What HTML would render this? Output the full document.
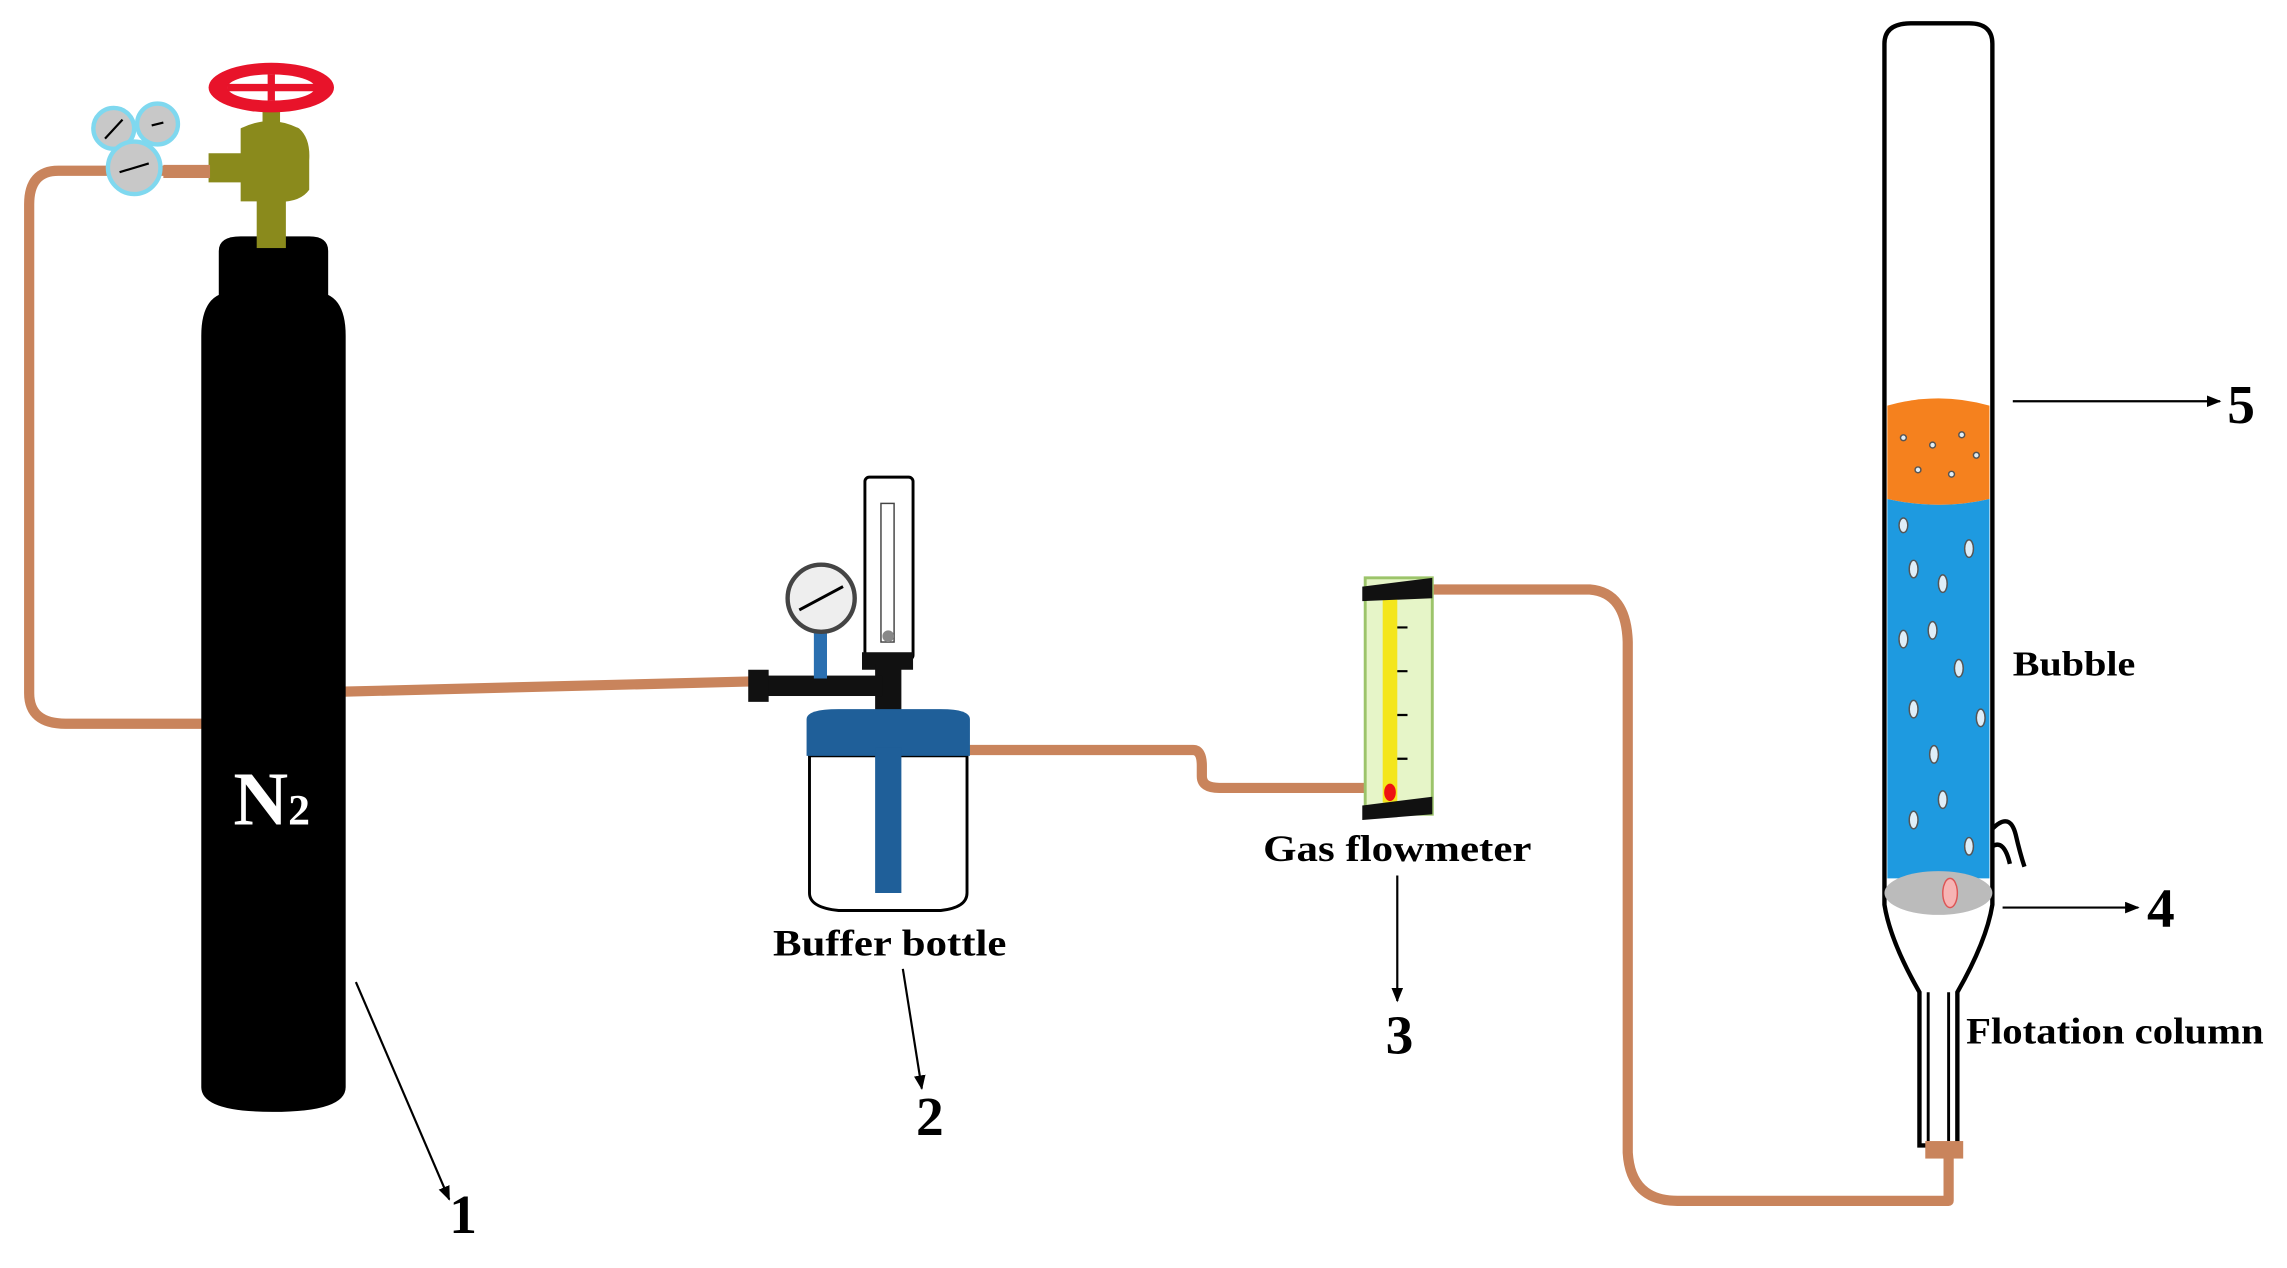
<!DOCTYPE html>
<html><head><meta charset="utf-8"><style>
html,body{margin:0;padding:0;background:#fff;width:2287px;height:1268px;overflow:hidden}
svg{display:block}
text{font-family:"Liberation Serif",serif;font-weight:bold;fill:#000}
</style></head><body>
<svg width="2287" height="1268" viewBox="0 0 1568 869" preserveAspectRatio="none">
<defs>
<marker id="ah" markerWidth="10" markerHeight="8" refX="9" refY="4" orient="auto" markerUnits="userSpaceOnUse">
<path d="M0,0 L10,4 L0,8 z" fill="#000"/></marker>
</defs>
<g fill="none" stroke="#c9845c" stroke-width="7" stroke-linejoin="round">
<path d="M118,117 L40,117 Q20,117 20,140 L20,475 Q20,496 45,496 L140,496"/>
<path d="M236,474 L515,467"/>
<path d="M664,514 L818,514 Q824,514 824,525 L824,532 Q824,540 836,540 L936,540"/>
<path d="M980,404 L1090,404 Q1115,406 1116,440 L1116,790 Q1118,823 1150,823 L1336,823 L1336,790"/>
</g>
<path d="M150,205 L150,172 Q150,162 165,162 L212,162 Q225,162 225,172 L225,205 Z" fill="#000"/>
<path d="M138,230 Q138,200 160,200 L215,200 Q237,200 237,230 L237,745 Q237,762 187,762 Q138,762 138,745 Z" fill="#000"/>
<text x="160" y="565" font-size="52" style="fill:#fff">N<tspan font-size="30">2</tspan></text>
<rect x="176" y="130" width="20" height="40" fill="#8a8a1c"/>
<path d="M143,105 L165,105 L165,88 Q185,78 205,88 Q213,95 212,110 L212,130 Q205,140 185,138 L165,138 L165,125 L143,125 Z" fill="#8a8a1c"/>
<rect x="180" y="70" width="12" height="15" fill="#8a8a1c"/>
<ellipse cx="186" cy="60" rx="43" ry="17" fill="#e8132a"/>
<ellipse cx="186" cy="60" rx="30" ry="9" fill="#fff"/>
<path d="M156,60 L216,60 M186,51 L186,69" stroke="#e8132a" stroke-width="5"/>
<rect x="112" y="113" width="32" height="9" fill="#c9845c"/>
<g fill="#c8c8c8" stroke="#7fd8ef" stroke-width="3">
<circle cx="78" cy="88" r="14"/><circle cx="108" cy="85" r="14"/><circle cx="92" cy="115" r="18"/>
</g>
<path d="M72,95 L84,82 M104,86 L112,84 M82,118 L102,112" stroke="#000" stroke-width="1.5"/>
<rect x="593" y="327" width="33" height="125" fill="#fff" stroke="#000" stroke-width="2" rx="3"/>
<rect x="604" y="345" width="9" height="95" fill="#fff" stroke="#444" stroke-width="1"/>
<circle cx="609" cy="436" r="4" fill="#888"/>
<rect x="591" y="447" width="35" height="12" fill="#111"/>
<rect x="600" y="455" width="18" height="40" fill="#111"/>
<rect x="515" y="463" width="90" height="14" fill="#111"/>
<rect x="513" y="459" width="14" height="22" fill="#111"/>
<rect x="558" y="430" width="9" height="35" fill="#2a6fb0"/>
<circle cx="563" cy="410" r="23" fill="#eee" stroke="#444" stroke-width="3"/>
<path d="M548,418 L578,402" stroke="#000" stroke-width="2"/>
<path d="M555,518 L555,612 Q555,622 575,624 L645,624 Q663,622 663,612 L663,518 Z" fill="#fff" stroke="#000" stroke-width="2"/>
<path d="M553,493 Q553,486 575,486 L645,486 Q665,486 665,493 L665,518 L553,518 Z" fill="#1f5f99"/>
<rect x="600" y="512" width="18" height="100" fill="#1f5f99"/>
<rect x="936" y="396" width="46" height="162" fill="#e6f5c8" stroke="#9cc46a" stroke-width="2"/>
<rect x="948" y="410" width="10" height="140" fill="#f4e61c"/>
<path d="M958,430 L965,430 M958,460 L965,460 M958,490 L965,490 M958,520 L965,520" stroke="#000" stroke-width="1.5"/>
<ellipse cx="953" cy="543" rx="4" ry="6" fill="#e11"/>
<path d="M934,402 L982,396 L982,410 L934,412 Z" fill="#111"/>
<path d="M934,552 L982,546 L982,558 L934,562 Z" fill="#111"/>
<path d="M1292,30 Q1292,16 1310,16 L1350,16 Q1366,16 1366,30 L1366,620 Q1362,645 1342,680 L1342,785 L1316,785 L1316,680 Q1296,645 1292,620 Z" fill="#fff" stroke="#000" stroke-width="3"/>
<path d="M1322,680 L1322,782 M1336,680 L1336,782" stroke="#000" stroke-width="2"/>
<path d="M1294,278 Q1329,268 1364,278 L1364,342 Q1330,350 1294,342 Z" fill="#f5811e"/>
<path d="M1294,342 Q1330,350 1364,342 L1364,602 L1294,602 Z" fill="#1e9ae0"/>
<g fill="#dfeef8" stroke="#555" stroke-width="1">
<ellipse cx="1305" cy="360" rx="3" ry="5"/><ellipse cx="1350" cy="376" rx="3" ry="6"/><ellipse cx="1312" cy="390" rx="3" ry="6"/><ellipse cx="1332" cy="400" rx="3" ry="6"/>
<ellipse cx="1305" cy="438" rx="3" ry="6"/><ellipse cx="1325" cy="432" rx="3" ry="6"/><ellipse cx="1343" cy="458" rx="3" ry="6"/><ellipse cx="1312" cy="486" rx="3" ry="6"/>
<ellipse cx="1358" cy="492" rx="3" ry="6"/><ellipse cx="1326" cy="517" rx="3" ry="6"/><ellipse cx="1332" cy="548" rx="3" ry="6"/><ellipse cx="1312" cy="562" rx="3" ry="6"/><ellipse cx="1350" cy="580" rx="3" ry="6"/>
<circle cx="1305" cy="300" r="2"/><circle cx="1325" cy="305" r="2"/><circle cx="1345" cy="298" r="2"/><circle cx="1315" cy="322" r="2"/><circle cx="1338" cy="325" r="2"/><circle cx="1355" cy="312" r="2"/>
</g>
<ellipse cx="1329" cy="612" rx="37" ry="15" fill="#bbb"/>
<ellipse cx="1337" cy="612" rx="5" ry="10" fill="#f7b4b4" stroke="#d55" stroke-width="1"/>
<rect x="1320" y="782" width="26" height="12" fill="#c9845c"/>
<path d="M1366,568 Q1378,556 1382,572 Q1385,585 1388,594 M1366,580 Q1374,575 1378,592" stroke="#000" stroke-width="3" fill="none"/>
<g stroke="#000" stroke-width="1.5" fill="none" marker-end="url(#ah)">
<path d="M244,673 L308,822"/>
<path d="M619,664 L632,746"/>
<path d="M958,600 L958,686"/>
<path d="M1373,622 L1466,622"/>
<path d="M1380,275 L1522,275"/>
</g>
<text x="530" y="655" font-size="25" textLength="160" lengthAdjust="spacingAndGlyphs">Buffer bottle</text>
<text x="866" y="590" font-size="25" textLength="184" lengthAdjust="spacingAndGlyphs">Gas flowmeter</text>
<text x="1380" y="463" font-size="24" textLength="84" lengthAdjust="spacingAndGlyphs">Bubble</text>
<text x="1348" y="715" font-size="25" textLength="204" lengthAdjust="spacingAndGlyphs">Flotation column</text>
<text x="308" y="845" font-size="38">1</text>
<text x="628" y="778" font-size="38">2</text>
<text x="950" y="722" font-size="38">3</text>
<text x="1472" y="635" font-size="38">4</text>
<text x="1527" y="290" font-size="38">5</text>
</svg>
</body></html>
